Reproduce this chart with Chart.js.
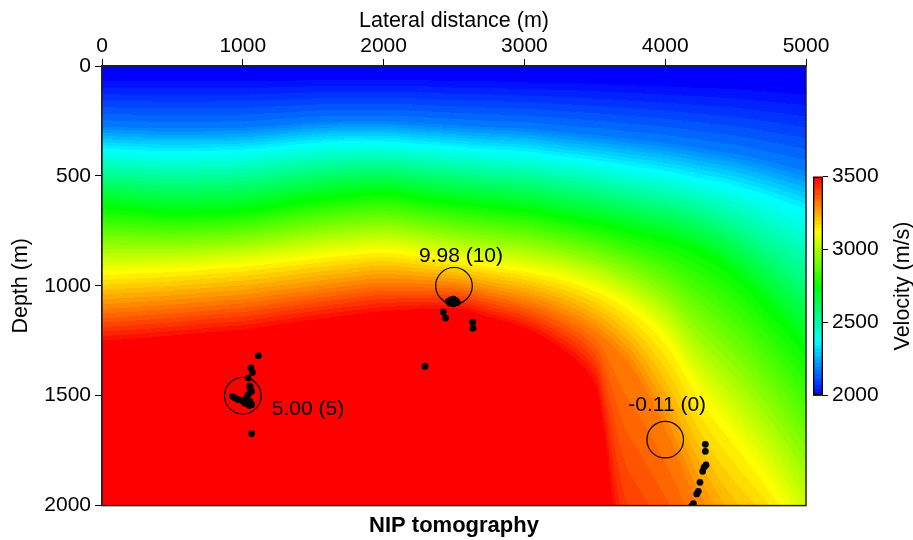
<!DOCTYPE html>
<html>
<head>
<meta charset="utf-8">
<script src="https://cdn.jsdelivr.net/npm/chart.js@4"></script>
<style>
  html, body { margin: 0; padding: 0; background: #fff; }
  #wrap { position: relative; width: 913px; height: 540px; }
  #main { position: absolute; left: 0; top: 0; }
  #cbar { position: absolute; left: 803px; top: 160px; }
</style>
</head>
<body>
<div id="wrap">
  <canvas id="main" width="913" height="540"></canvas>
  <canvas id="cbar" width="115" height="252"></canvas>
</div>
<script>
// ---- velocity model ----
// columns of the model (lateral distance, m)
const gridX = [0, 250, 500, 750, 1000, 1250, 1500, 1750, 2000, 2250, 2500,
               2750, 3000, 3250, 3500, 3750, 4000, 4250, 4500, 4750, 5000];
// iso-velocity levels (m/s) and the depth (m) of each level in each column
const isoVel = [2000, 2187, 2375, 2750, 3125, 3312, 3500];
const depthAt2000 = [55, 55, 55, 55, 55, 53, 51, 50, 50, 50, 55, 55, 60, 60, 65, 70, 75, 80, 85, 95, 105];
const depthAt2187 = [275, 281, 284, 283, 280, 270, 258, 252, 252, 260, 269, 278, 284, 300, 314, 332, 350, 374, 400, 436, 478];
const depthAt2375 = [382, 390, 395, 393, 388, 372, 357, 349, 350, 361, 373, 386, 395, 416, 436, 461, 486, 520, 555, 605, 664];
const depthAt2750 = [641, 655, 668, 666, 658, 634, 608, 589, 580, 600, 623, 639, 655, 685, 714, 752, 791, 845, 950, 1109, 1291];
const depthAt3125 = [941, 934, 927, 916, 903, 886, 868, 852, 840, 859, 882, 905, 927, 960, 1012, 1098, 1237, 1490, 1694, 1911, 2180];
const depthAt3312 = [1105, 1095, 1085, 1072, 1060, 1040, 1020, 1000, 985, 990, 998, 1030, 1065, 1120, 1205, 1358, 1648, 2020, 2300, 2400, 2600];
const depthAt3500 = [1260, 1250, 1236, 1222, 1209, 1186, 1164, 1143, 1125, 1115, 1110, 1150, 1200, 1291, 1460, 2600, 2800, 2900, 3000, 3100, 3200];
const isoDepth = [depthAt2000, depthAt2187, depthAt2375, depthAt2750, depthAt3125, depthAt3312, depthAt3500];

// colour scale
const velMin = 2000, velMax = 3500, velStep = 25;
const cbarTicks = [2000, 2500, 3000, 3500];

// NIP picks (lateral distance m, depth m)
const pickX = [1110, 1058, 1068, 1039, 1051, 1051, 1063, 1039, 1028, 1051, 1063, 1046,
               928, 945, 968, 992, 1004, 1016, 1028, 1063,
               2460, 2476, 2495, 2514, 2523, 2495, 2472, 2424, 2441, 2633, 2635, 2294,
               4285, 4285, 4290, 4276, 4266, 4247, 4235, 4224, 4200, 4188];
const pickZ = [1318, 1374, 1394, 1420, 1455, 1464, 1480, 1495, 1509, 1526, 1541, 1545,
               1503, 1511, 1518, 1521, 1526, 1533, 1536, 1673,
               1071, 1064, 1061, 1067, 1076, 1082, 1079, 1120, 1147, 1165, 1193, 1367,
               1721, 1753, 1815, 1826, 1844, 1894, 1935, 1947, 1991, 2003];

// true positions and their labels
const targetX = [1000, 2500, 4000];
const targetZ = [1500, 1000, 1700];
const targetText = ['5.00 (5)', '9.98 (10)', '-0.11 (0)'];

Chart.defaults.font.family = '"Liberation Sans", Arial, sans-serif';
Chart.defaults.color = '#000';

// blue - cyan - green - yellow - red
function velColor(v) {
  let t = (v - velMin) / (velMax - velMin);
  t = Math.max(0, Math.min(1, t));
  if (t < 0.25) return [0, Math.round(1020 * t), 255];
  if (t < 0.5) return [0, 255, Math.round(255 * (1 - 4 * (t - 0.25)))];
  if (t < 0.75) return [Math.round(255 * 4 * (t - 0.5)), 255, 0];
  return [255, Math.round(255 * (1 - 4 * (t - 0.75))), 0];
}

// monotone cubic through the column depths of one level
function smoothAt(d, xm) {
  const n = gridX.length;
  let i = 0;
  while (i < n - 2 && xm > gridX[i + 1]) i++;
  const h = gridX[i + 1] - gridX[i];
  const t = Math.max(0, Math.min(1, (xm - gridX[i]) / h));
  const sec = k => (d[k + 1] - d[k]) / (gridX[k + 1] - gridX[k]);
  const tan = k => {
    if (k === 0) return sec(0);
    if (k === n - 1) return sec(n - 2);
    const a = sec(k - 1), b = sec(k);
    return a * b <= 0 ? 0 : 2 / (1 / a + 1 / b);
  };
  const m0 = tan(i) * h, m1 = tan(i + 1) * h;
  const t2 = t * t, t3 = t2 * t;
  return (2 * t3 - 3 * t2 + 1) * d[i] + (t3 - 2 * t2 + t) * m0 +
         (-2 * t3 + 3 * t2) * d[i + 1] + (t3 - t2) * m1;
}

function levelDepths(xm) {
  const out = isoDepth.map(d => smoothAt(d, xm));
  for (let k = 1; k < out.length; k++) out[k] = Math.max(out[k], out[k - 1] + 1);
  return out;
}

function velocityAt(d, z) {
  if (z <= d[0]) return isoVel[0];
  for (let k = 0; k < d.length - 1; k++) {
    if (z <= d[k + 1]) return isoVel[k] + (isoVel[k + 1] - isoVel[k]) * (z - d[k]) / (d[k + 1] - d[k]);
  }
  return isoVel[isoVel.length - 1];
}

const fieldPlugin = {
  id: 'velocityField',
  beforeDatasetsDraw(chart) {
    const { ctx, chartArea: a, scales: { x, y } } = chart;
    const w = Math.round(a.right - a.left), h = Math.round(a.bottom - a.top);
    const off = document.createElement('canvas');
    off.width = w; off.height = h;
    const octx = off.getContext('2d');
    const img = octx.createImageData(w, h);
    for (let i = 0; i < w; i++) {
      const d = levelDepths(x.getValueForPixel(a.left + i + 0.5));
      for (let j = 0; j < h; j++) {
        let v = velocityAt(d, y.getValueForPixel(a.top + j + 0.5));
        v = velMin + Math.round((v - velMin) / velStep) * velStep;
        const c = velColor(v);
        const k = (j * w + i) * 4;
        img.data[k] = c[0]; img.data[k + 1] = c[1]; img.data[k + 2] = c[2]; img.data[k + 3] = 255;
      }
    }
    octx.putImageData(img, 0, 0);
    ctx.drawImage(off, a.left, a.top);
  }
};

const labelPlugin = {
  id: 'targetLabels',
  afterDatasetsDraw(chart) {
    const { ctx, scales: { x, y } } = chart;
    // placement of each label around its circle
    const place = [{ dx: 29, dy: 14, align: 'left' }, { dx: 7, dy: -30, align: 'center' }, { dx: 2, dy: -34, align: 'center' }];
    ctx.save();
    ctx.font = '21px "Liberation Sans", Arial, sans-serif';
    ctx.fillStyle = '#000';
    ctx.textBaseline = 'middle';
    targetText.forEach((t, i) => {
      const p = place[i];
      ctx.textAlign = p.align;
      ctx.fillText(t, x.getPixelForValue(targetX[i]) + p.dx, y.getPixelForValue(targetZ[i]) + p.dy);
    });
    ctx.restore();
  }
};

const framePlugin = {
  id: 'frame',
  afterDraw(chart) {
    const { ctx, chartArea: a } = chart;
    ctx.save();
    ctx.strokeStyle = '#222';
    ctx.lineWidth = 1.5;
    ctx.strokeRect(a.left, a.top, a.right - a.left, a.bottom - a.top);
    ctx.restore();
  }
};

const picks = pickX.map((v, i) => ({ x: v, y: pickZ[i] }));
const targets = targetX.map((v, i) => ({ x: v, y: targetZ[i] }));
const plain = v => String(v);

new Chart(document.getElementById('main'), {
  type: 'scatter',
  data: {
    datasets: [
      { label: 'NIPs', data: picks, pointRadius: 3.4, pointHoverRadius: 3.4,
        pointBackgroundColor: '#000', pointBorderWidth: 0 },
      { label: 'targets', data: targets, pointRadius: 18.3, pointHoverRadius: 18.3,
        pointBackgroundColor: 'rgba(0,0,0,0)', pointBorderColor: '#000', pointBorderWidth: 1.2 }
    ]
  },
  options: {
    responsive: false,
    animation: false,
    events: [],
    layout: { padding: { left: 0, right: 107, top: 0, bottom: 0 } },
    plugins: {
      legend: { display: false },
      tooltip: { enabled: false },
      title: {
        display: true, text: 'NIP tomography', position: 'bottom', fullSize: false,
        font: { size: 22, weight: 'bold' }, padding: { top: 7, bottom: 1 }
      }
    },
    scales: {
      x: {
        type: 'linear', position: 'top', min: 0, max: 5000,
        ticks: { stepSize: 1000, font: { size: 21 }, padding: 0, maxRotation: 0, autoSkip: false, callback: plain },
        grid: { drawOnChartArea: false, tickLength: 7, color: '#000' },
        border: { color: '#222', width: 1.5 },
        title: { display: true, text: 'Lateral distance (m)', font: { size: 21.5 }, padding: { top: 8, bottom: 0 } },
        afterFit: s => { s.height = 66; }
      },
      y: {
        type: 'linear', reverse: true, min: 0, max: 2000,
        ticks: { stepSize: 500, font: { size: 21 }, padding: 4, autoSkip: false, callback: plain },
        grid: { drawOnChartArea: false, tickLength: 7, color: '#000' },
        border: { color: '#222', width: 1.5 },
        title: { display: true, text: 'Depth (m)', font: { size: 21.5 }, padding: { top: 8, bottom: 0 } },
        afterFit: s => { s.width = 102; }
      }
    }
  },
  plugins: [fieldPlugin, labelPlugin, framePlugin]
});

// ---- colour bar ----
const cbarPlugin = {
  id: 'cbarFill',
  beforeDatasetsDraw(chart) {
    const { ctx, chartArea: a, scales: { y } } = chart;
    ctx.save();
    for (let v = velMin; v < velMax; v += velStep) {
      const c = velColor(v + velStep / 2);
      const y0 = y.getPixelForValue(v + velStep), y1 = y.getPixelForValue(v);
      ctx.fillStyle = `rgb(${c[0]},${c[1]},${c[2]})`;
      ctx.fillRect(a.left, y0, a.right - a.left, y1 - y0 + 0.5);
    }
    ctx.restore();
  },
  afterDraw(chart) {
    const { ctx, chartArea: a } = chart;
    ctx.save();
    ctx.translate(100, (a.top + a.bottom) / 2);
    ctx.rotate(-Math.PI / 2);
    ctx.font = '21.5px "Liberation Sans", Arial, sans-serif';
    ctx.fillStyle = '#000';
    ctx.textAlign = 'center';
    ctx.textBaseline = 'middle';
    ctx.fillText('Velocity (m/s)', 0, 0);
    ctx.restore();
  }
};

new Chart(document.getElementById('cbar'), {
  type: 'bar',
  data: {
    labels: [''],
    datasets: [{
      data: [[velMin, velMax]], backgroundColor: 'rgba(0,0,0,0)',
      borderColor: '#000', borderWidth: 1, borderSkipped: false,
      barPercentage: 1, categoryPercentage: 1
    }]
  },
  options: {
    responsive: false,
    animation: false,
    events: [],
    layout: { padding: { left: 10, right: 0, top: 16, bottom: 16 } },
    plugins: { legend: { display: false }, tooltip: { enabled: false } },
    scales: {
      x: { display: false },
      y: {
        position: 'right', min: velMin, max: velMax,
        afterBuildTicks: s => { s.ticks = cbarTicks.map(v => ({ value: v })); },
        ticks: { font: { size: 21 }, padding: 4, callback: plain },
        grid: { drawOnChartArea: false, tickLength: 5, color: '#000' },
        border: { display: false },
        afterFit: s => { s.width = 95; }
      }
    }
  },
  plugins: [cbarPlugin]
});
</script>
</body>
</html>
